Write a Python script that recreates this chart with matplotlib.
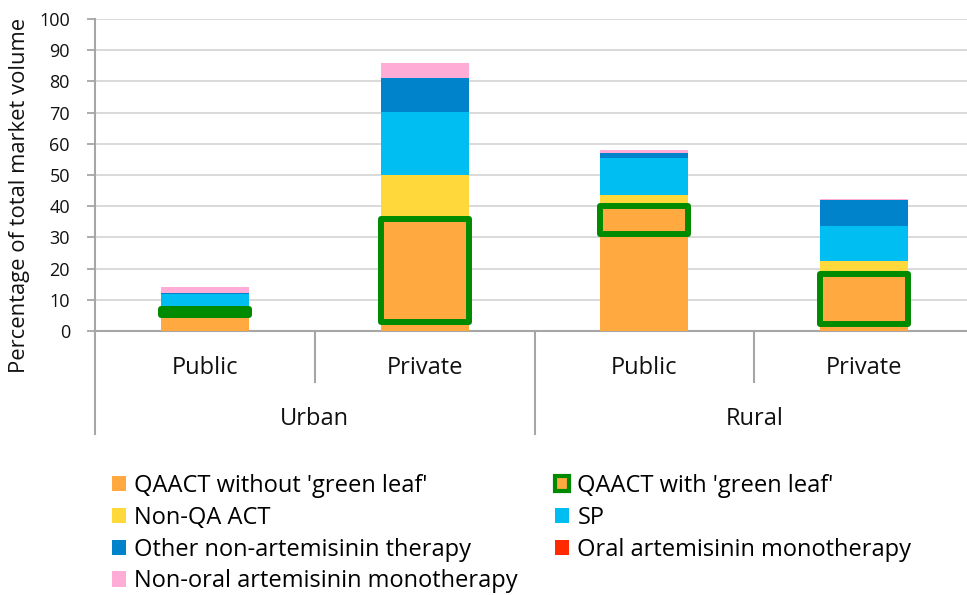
import matplotlib
matplotlib.use("Agg")
import matplotlib.pyplot as plt
import matplotlib.transforms as mtransforms
from matplotlib.patches import Patch
import numpy as np

plt.rcParams['font.family'] = ['Open Sans', 'DejaVu Sans']

# ---- data ----
sectors = ['Public', 'Private', 'Public', 'Private']
areas = ['Urban', 'Rural']
qaact_no_gl = [5.2, 2.9, 31.0, 2.2]
qaact_gl = [1.8, 33.1, 9.0, 16.1]
non_qa_act = [0.3, 14.1, 3.5, 4.2]
sp = [4.5, 20.1, 12.1, 11.3]
other_non_art = [0.3, 10.8, 1.3, 8.1]
oral_art_mono = [0.0, 0.0, 0.0, 0.0]
non_oral_art_mono = [2.0, 4.9, 1.0, 0.5]
yticks = [0, 10, 20, 30, 40, 50, 60, 70, 80, 90, 100]

c_orange = '#FFA940'
c_yellow = '#FFD93B'
c_sp = '#00BEF2'
c_dblue = '#0083CB'
c_red = '#FF2A00'
c_pink = '#FFADD7'
c_green = '#008A00'

W, H = 967, 595
fig = plt.figure(figsize=(W / 100, H / 100), dpi=100)
x0, x1, ytop, ybot = 95, 974, 19, 331
ax = fig.add_axes([x0 / W, 1 - ybot / H, (x1 - x0) / W, (ybot - ytop) / H])

x = np.arange(len(sectors))
bw = 0.40
series = [
    (qaact_no_gl, c_orange, "QAACT without 'green leaf'"),
    (qaact_gl, c_orange, "QAACT with 'green leaf'"),
    (non_qa_act, c_yellow, 'Non-QA ACT'),
    (sp, c_sp, 'SP'),
    (other_non_art, c_dblue, 'Other non-artemisinin therapy'),
    (oral_art_mono, c_red, 'Oral artemisinin monotherapy'),
    (non_oral_art_mono, c_pink, 'Non-oral artemisinin monotherapy'),
]
bottom = np.zeros(len(sectors))
for i, (vals, col, lab) in enumerate(series):
    vals = np.array(vals, dtype=float)
    if i == 1:
        ax.bar(x, vals, bw, bottom=bottom, color=col, edgecolor=c_green,
               linewidth=4.3, joinstyle='round', zorder=5)
    else:
        ax.bar(x, vals, bw, bottom=bottom, color=col, linewidth=0, zorder=3)
    bottom += vals

ax.set_xlim(-0.5, 3.5)
ax.set_ylim(0, 100)
ax.set_yticks(yticks)
ax.yaxis.grid(True, color='#D9D9D9', linewidth=1.4)
ax.set_axisbelow(True)
for s in ['top', 'right']:
    ax.spines[s].set_visible(False)
for s in ['left', 'bottom']:
    ax.spines[s].set_color('#A6A6A6')
    ax.spines[s].set_linewidth(1.5)
ax.tick_params(axis='y', length=6, width=1.3, color='#A6A6A6', pad=12,
               labelsize=13, labelcolor='#111111')
ax.tick_params(axis='x', length=0, labelbottom=False)
ax.set_ylabel('Percentage of total market volume', fontsize=15.8, color='#111111')
ax.yaxis.set_label_coords(-0.074, 0.436)

# multi-level category axis
trans = mtransforms.blended_transform_factory(ax.transData, ax.transAxes)
short = 51 / (ybot - ytop)
long_ = 103 / (ybot - ytop)
for xs, ln in [(-0.5, long_), (0.5, short), (1.5, long_), (2.5, short)]:
    ax.plot([xs, xs], [0, -ln], transform=trans, color='#A6A6A6', lw=1.5,
            clip_on=False)
for xi, lab in zip(x, sectors):
    ax.text(xi, -37 / (ybot - ytop), lab, transform=trans, ha='center',
            va='center', fontsize=17, color='#111111')
for xi, lab in zip([0.5, 2.5], areas):
    ax.text(xi, -88 / (ybot - ytop), lab, transform=trans, ha='center',
            va='center', fontsize=17, color='#111111')

# legend
handles = [Patch(facecolor=col, edgecolor='none', label=lab)
           for _, col, lab in series]
handles[1] = Patch(facecolor=c_orange, edgecolor=c_green, linewidth=3,
                   label=series[1][2])
order = [0, 2, 4, 6, 1, 3, 5]
leg = fig.legend([handles[i] for i in order], [handles[i].get_label() for i in order],
                 ncol=2, loc='upper left', bbox_to_anchor=(112 / W, 1 - 474 / H),
                 frameon=False, fontsize=17, handlelength=0.58, handleheight=0.62,
                 handletextpad=0.35, columnspacing=1.6, labelspacing=0.33,
                 borderaxespad=0, borderpad=0)

fig.savefig('out.png', dpi=100)
